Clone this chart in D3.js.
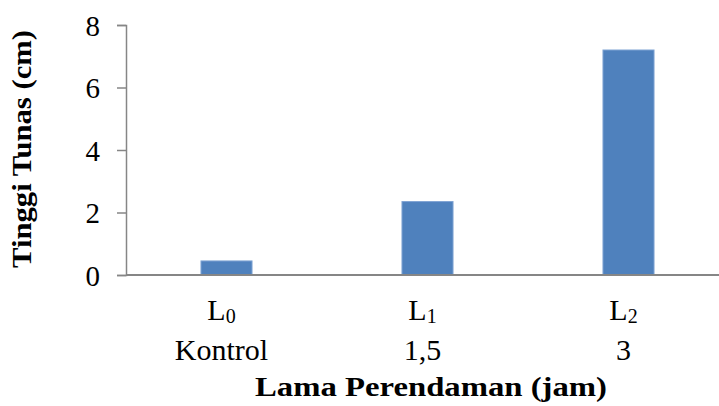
<!DOCTYPE html>
<html>
<head>
<meta charset="utf-8">
<script src="https://cdn.jsdelivr.net/npm/d3@7"></script>
<style>
  body { margin: 0; background: #fff; }
  svg text { font-family: "Liberation Serif", "Times New Roman", serif; fill: #000; }
</style>
</head>
<body>
<div id="chart"></div>
<script>
// data
var categories = ["L0", "L1", "L2"];
var subLetters = ["L", "L", "L"];
var subIndex = ["0", "1", "2"];
var secondLine = ["Kontrol", "1,5", "3"];
var values = [0.45, 2.35, 7.2];
var yTicks = [0, 2, 4, 6, 8];

var width = 719,
    height = 406;

var svg = d3.select("#chart")
    .append("svg")
    .attr("width", width)
    .attr("height", height);

// scales
var x = d3.scaleBand()
    .domain(categories)
    .range([126, 729])
    .paddingInner(0.746)
    .paddingOuter(0.373);

var y = d3.scaleLinear()
    .domain([0, 8])
    .range([275, 25]);

// bars
svg.selectAll("rect.bar")
    .data(values)
    .enter()
    .append("rect")
    .attr("class", "bar")
    .attr("x", function(d, i) { return x(categories[i]); })
    .attr("y", function(d) { return y(d); })
    .attr("width", x.bandwidth())
    .attr("height", function(d) { return y(0) - y(d); })
    .attr("fill", "#4f81bd")
    .attr("stroke", "#7fa3d3")
    .attr("stroke-width", 1);

// y axis
var yAxis = d3.axisLeft(y)
    .tickValues(yTicks)
    .tickSize(9)
    .tickPadding(17)
    .tickFormat(d3.format("d"));

var gy = svg.append("g")
    .attr("transform", "translate(126,0)")
    .call(yAxis);
gy.select(".domain").attr("stroke", "#868686").attr("stroke-width", 1.5);
gy.selectAll(".tick line").attr("stroke", "#868686").attr("stroke-width", 1.5);
gy.selectAll(".tick text")
    .style("font-size", "29px")
    .attr("dy", "0.35em");

// baseline
svg.append("line")
    .attr("x1", 126)
    .attr("x2", width)
    .attr("y1", y(0))
    .attr("y2", y(0))
    .attr("stroke", "#868686")
    .attr("stroke-width", 2);

// category labels (two lines, first with subscript)
var labels = svg.selectAll("g.cat")
    .data(categories)
    .enter()
    .append("g")
    .attr("class", "cat")
    .attr("transform", function(d) {
        return "translate(" + (x(d) + x.bandwidth() / 2 - 5) + ",0)";
    });

var first = labels.append("text")
    .attr("y", 320)
    .attr("text-anchor", "middle")
    .style("font-size", "30px");
first.append("tspan").text(function(d, i) { return subLetters[i]; });
first.append("tspan")
    .style("font-size", "20px")
    .attr("dy", 3)
    .text(function(d, i) { return subIndex[i]; });

labels.append("text")
    .attr("y", 360)
    .attr("text-anchor", "middle")
    .style("font-size", "30px")
    .text(function(d, i) { return secondLine[i]; });

// axis titles
svg.append("text")
    .attr("x", 431)
    .attr("y", 396)
    .attr("text-anchor", "middle")
    .attr("textLength", 352)
    .attr("lengthAdjust", "spacingAndGlyphs")
    .style("font-size", "28px")
    .style("font-weight", "bold")
    .text("Lama Perendaman (jam)");

svg.append("text")
    .attr("transform", "translate(31,149) rotate(-90)")
    .attr("text-anchor", "middle")
    .attr("textLength", 238)
    .attr("lengthAdjust", "spacingAndGlyphs")
    .style("font-size", "27px")
    .style("font-weight", "bold")
    .text("Tinggi Tunas (cm)");
</script>
</body>
</html>
